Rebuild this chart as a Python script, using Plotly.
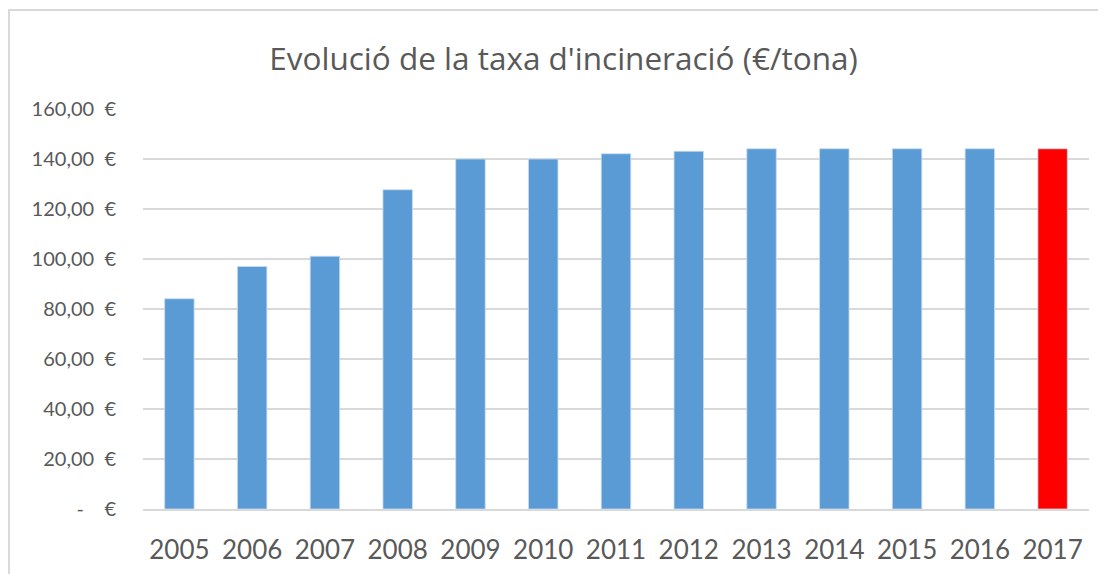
"""Evolució de la taxa d'incineració, bar chart."""
import plotly.graph_objects as go

years = ["2005", "2006", "2007", "2008", "2009", "2010", "2011",
         "2012", "2013", "2014", "2015", "2016", "2017"]
rates = [84.1, 97.0, 101.1, 127.7, 140.0, 140.0, 142.1,
         143.1, 144.1, 144.1, 144.1, 144.1, 144.1]
highlight_year = "2017"

NB = "\u00a0"
tick_vals = [0, 20, 40, 60, 80, 100, 120, 140, 160]
tick_text = ["-" + NB * 4 + "€"] + [
    f"{v},00" + NB * 2 + "€" for v in tick_vals[1:]
]

BLUE = "#5b9bd5"
RED = "#ff0000"
TEXT = "#595959"
GRID = "#d9d9d9"
FONT = "Lato, 'Open Sans', sans-serif"

colors = [RED if y == highlight_year else BLUE for y in years]

fig = go.Figure()
fig.add_trace(
    go.Bar(
        x=years,
        y=rates,
        marker=dict(color=colors, line=dict(color="#c9dcf0", width=0.8)),
        hovertemplate="%{x}: %{y:.2f} €<extra></extra>",
    )
)

# outer chart frame (Excel chart area border), top and left edges visible
fig.add_shape(
    type="rect", xref="paper", yref="paper",
    x0=-0.1416, x1=1.05, y0=-0.25, y1=1.2475,
    line=dict(color=GRID, width=2), layer="below",
)

fig.update_layout(
    width=1106,
    height=574,
    margin=dict(l=135, r=25, t=101, b=73),
    paper_bgcolor="white",
    plot_bgcolor="white",
    font=dict(family=FONT, color=TEXT),
    bargap=0.595,
    showlegend=False,
    title=dict(
        text="Evolució de la taxa d'incineració (€/tona)",
        font=dict(size=31.5, color=TEXT, family="'Open Sans', sans-serif"),
        x=0.5023, xanchor="center",
        y=0.911, yanchor="middle", yref="container",
    ),
    xaxis=dict(
        type="category",
        tickfont=dict(size=26, color=TEXT),
        showgrid=False,
        showline=True,
        linecolor=GRID,
        linewidth=1.5,
        ticks="",
        ticklabelstandoff=17,
    ),
    yaxis=dict(
        range=[0, 160],
        tickvals=tick_vals,
        ticktext=tick_text,
        tickfont=dict(size=20, color=TEXT),
        showgrid=True,
        gridcolor=GRID,
        gridwidth=1.5,
        zeroline=False,
        showline=False,
        ticks="",
        ticklabelstandoff=26,
    ),
)

fig.write_html("out.html")
